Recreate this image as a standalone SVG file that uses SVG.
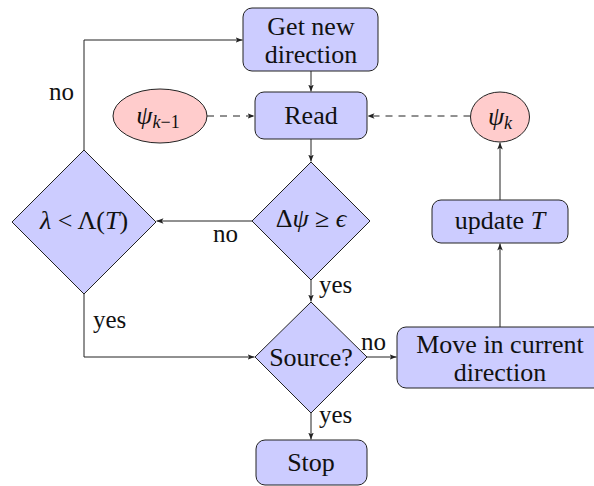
<svg xmlns="http://www.w3.org/2000/svg" width="594" height="486" viewBox="0 0 594 486">
<defs>
<marker id="ah" viewBox="0 0 10 8" refX="10" refY="4" markerWidth="7" markerHeight="5.6" markerUnits="userSpaceOnUse" orient="auto">
<path d="M0,0 L10,4 L0,8 L2.5,4 Z" fill="#222"/>
</marker>
<style>
.box{fill:#ccccff;stroke:#222;stroke-width:1}
.red{fill:#ffcccc;stroke:#222;stroke-width:1}
.t{font-family:'Liberation Serif','DejaVu Serif',serif;font-size:26px;fill:#111;text-anchor:middle}
.l{font-family:'Liberation Serif','DejaVu Serif',serif;font-size:25px;fill:#111}
.c{fill:none;stroke:#222;stroke-width:1}
.a{marker-end:url(#ah)}
.d{stroke-dasharray:7 6}
.i{font-style:italic}
</style>
</defs>
<g id="connectors">
<path class="c a" d="M311,71 V91.5"/>
<path class="c a" d="M311,139 V161.5"/>
<path class="c a" d="M311,280 V301.5"/>
<path class="c a" d="M311,413 V439.5"/>
<path class="c a" d="M367,357 H396.5"/>
<path class="c a" d="M500,327 V243.5"/>
<path class="c a" d="M500,200 V142.5"/>
<path class="c a d" d="M470.5,116 H367.5"/>
<path class="c a d" d="M207,116 H254.5"/>
<path class="c a" d="M252,221 H156.5"/>
<path class="c a" d="M84,150 V40 H242.5"/>
<path class="c a" d="M84,294 V357 H254.5"/>
<text class="l" x="49" y="100">no</text>
<text class="l" x="93" y="328">yes</text>
<text class="l" x="213" y="242">no</text>
<text class="l" x="319" y="293">yes</text>
<text class="l" x="361" y="350">no</text>
<text class="l" x="319" y="423">yes</text>
</g>
<g id="getdir">
<rect class="box" x="243" y="8" width="135" height="63" rx="9"/>
<text class="t" x="311" y="35">Get new</text>
<text class="t" x="311" y="63">direction</text>
</g>
<g id="read">
<rect class="box" x="255" y="92" width="112" height="47" rx="9"/>
<text class="t" x="311" y="124">Read</text>
</g>
<g id="psikm1">
<ellipse class="red" cx="160" cy="116" rx="47" ry="27"/>
<text class="t" x="158" y="124"><tspan class="i">ψ</tspan><tspan class="i" font-size="18" dy="4">k</tspan><tspan font-size="18">−1</tspan></text>
</g>
<g id="psik">
<ellipse class="red" cx="500" cy="117" rx="29.5" ry="25"/>
<text class="t" x="500" y="125"><tspan class="i">ψ</tspan><tspan class="i" font-size="18" dy="4">k</tspan></text>
</g>
<g id="dpsi">
<polygon class="box" points="311,162 370,221 311,280 252,221"/>
<text class="t" x="311" y="227">Δ<tspan class="i">ψ</tspan> ≥ <tspan class="i">ϵ</tspan></text>
</g>
<g id="lambda">
<polygon class="box" points="84,150 156,222 84,294 12,222"/>
<text class="t" x="84" y="229"><tspan class="i">λ</tspan> &lt; Λ(<tspan class="i">T</tspan>)</text>
</g>
<g id="source">
<polygon class="box" points="311,302 367,357 311,413 255,357"/>
<text class="t" x="311" y="366">Source?</text>
</g>
<g id="stop">
<rect class="box" x="256" y="440" width="111" height="45" rx="9"/>
<text class="t" x="311" y="471">Stop</text>
</g>
<g id="update">
<rect class="box" x="432" y="200" width="136" height="43" rx="9"/>
<text class="t" x="500" y="229">update <tspan class="i">T</tspan></text>
</g>
<g id="move">
<rect class="box" x="397" y="327" width="206" height="61" rx="9"/>
<text class="t" x="500" y="353">Move in current</text>
<text class="t" x="500" y="381">direction</text>
</g>
</svg>
